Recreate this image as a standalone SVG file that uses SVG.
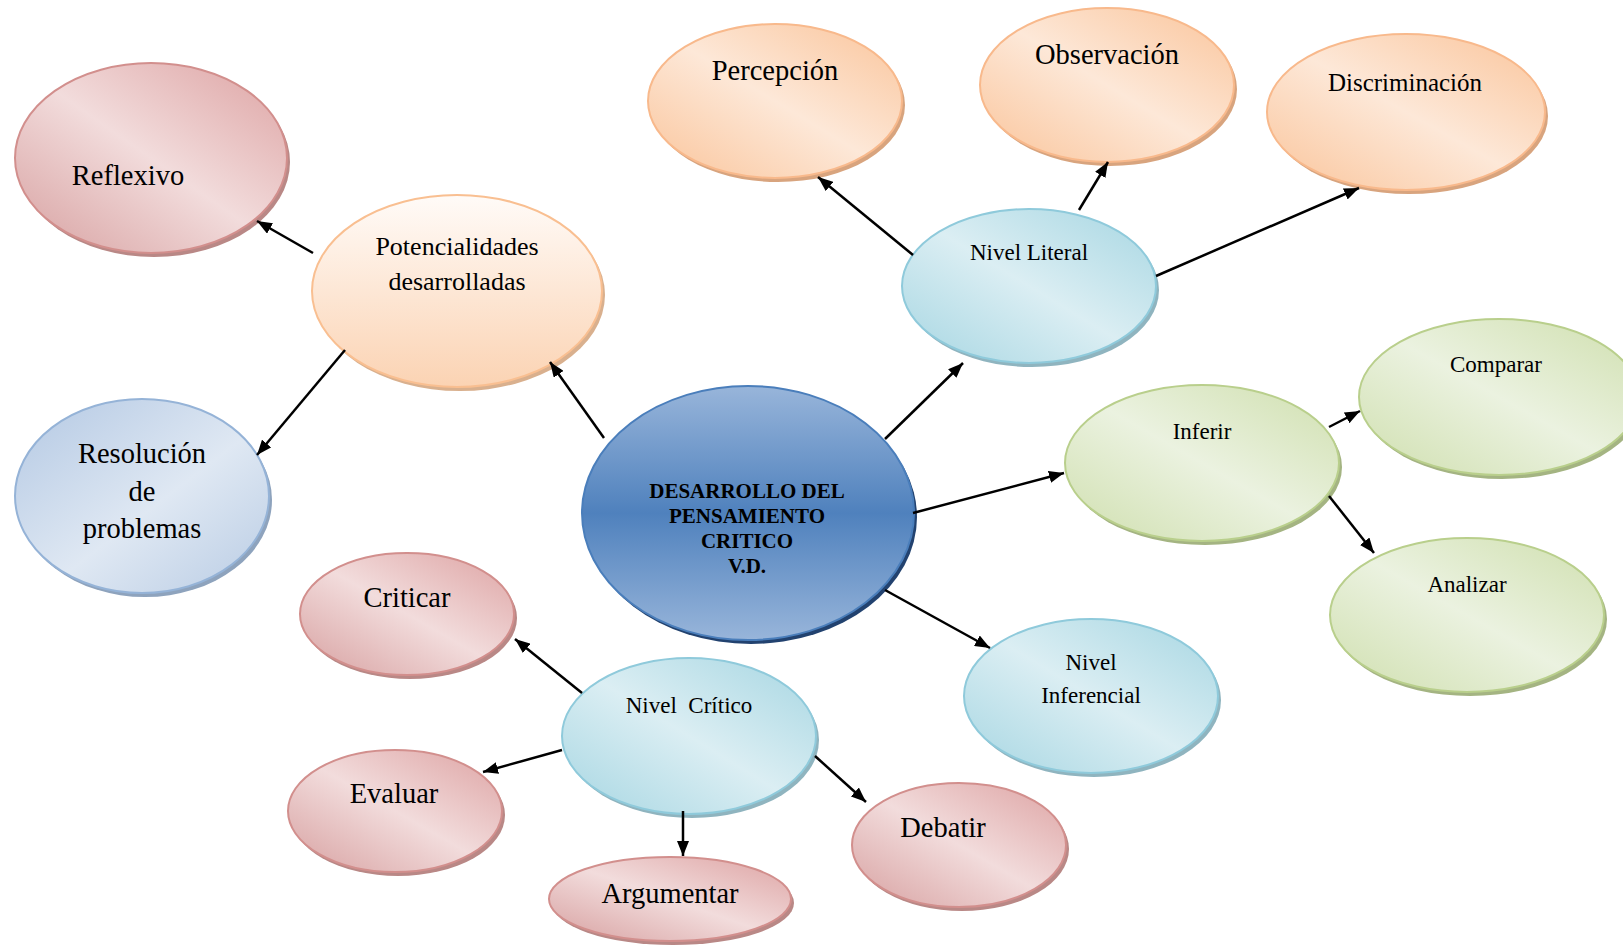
<svg xmlns="http://www.w3.org/2000/svg" width="1623" height="946" viewBox="0 0 1623 946">
<style>
text{font-family:"Liberation Serif","Times New Roman",serif;fill:#000;text-anchor:middle}
.t28{font-size:28.5px}
.t26{font-size:26px}
.t25{font-size:25px}
.t23{font-size:23px}
.tb{font-size:21px;font-weight:bold}
.pink{fill:url(#gPink);stroke:#d28f8d;stroke-width:2}
.orange{fill:url(#gOrange);stroke:#f8b98c;stroke-width:2}
.lblue{fill:url(#gLBlue);stroke:#8fcadb;stroke-width:2}
.green{fill:url(#gGreen);stroke:#b9cf8c;stroke-width:2}
.sb{fill:url(#gSBlue);stroke:#95b3d7;stroke-width:2}
.pot{fill:url(#gPot);stroke:#f9bf91;stroke-width:2}
.cen{fill:url(#gCen);stroke:#4a7ebb;stroke-width:2}
.sh-pink{fill:#b98886}
.sh-orange{fill:#d8a47e}
.sh-lblue{fill:#8fb4bf}
.sh-green{fill:#a4b482}
.sh-sb{fill:#8ea3bd}
.sh-pot{fill:#d9b08e}
.sh-cen{fill:#22426f}
.conn line{stroke:#000;stroke-width:2.5;marker-end:url(#arr)}
</style>
<defs>
<marker id="arr" markerUnits="userSpaceOnUse" markerWidth="15" markerHeight="12" refX="15" refY="6" orient="auto">
<path d="M0,0 L15,6 L0,12 z" fill="#000"/>
</marker>
<linearGradient id="gPink" x1="0" y1="1" x2="1" y2="0">
<stop offset="0" stop-color="#d7a0a0"/>
<stop offset="0.5" stop-color="#f2dcdc"/>
<stop offset="1" stop-color="#dda2a2"/>
</linearGradient>
<linearGradient id="gOrange" x1="0" y1="1" x2="1" y2="0">
<stop offset="0" stop-color="#fac49a"/>
<stop offset="0.5" stop-color="#fde8d8"/>
<stop offset="1" stop-color="#fac49a"/>
</linearGradient>
<linearGradient id="gLBlue" x1="0" y1="1" x2="1" y2="0">
<stop offset="0" stop-color="#a6d6e2"/>
<stop offset="0.5" stop-color="#dbeef3"/>
<stop offset="1" stop-color="#a6d6e2"/>
</linearGradient>
<linearGradient id="gGreen" x1="0" y1="1" x2="1" y2="0">
<stop offset="0" stop-color="#cfdfae"/>
<stop offset="0.5" stop-color="#ebf2e0"/>
<stop offset="1" stop-color="#cfdfae"/>
</linearGradient>
<linearGradient id="gSBlue" x1="0" y1="0" x2="1" y2="1">
<stop offset="0" stop-color="#b3c8e3"/>
<stop offset="0.55" stop-color="#dfe8f3"/>
<stop offset="1" stop-color="#b9cce4"/>
</linearGradient>
<linearGradient id="gPot" x1="0" y1="0" x2="0" y2="1">
<stop offset="0" stop-color="#fffbf8"/>
<stop offset="1" stop-color="#fbd3b3"/>
</linearGradient>
<linearGradient id="gCen" x1="0" y1="0" x2="0" y2="1">
<stop offset="0" stop-color="#98b5da"/>
<stop offset="0.5" stop-color="#4f81bd"/>
<stop offset="1" stop-color="#98b5da"/>
</linearGradient>
</defs>
<rect width="1623" height="946" fill="#fff"/>

<g id="reflexivo">
<ellipse class="sh-pink" cx="154" cy="162" rx="136" ry="95"/>
<ellipse class="pink" cx="151" cy="158" rx="136" ry="95"/>
<text class="t28" x="128" y="185">Reflexivo</text>
</g>
<g id="potencialidades">
<ellipse class="sh-pot" cx="460" cy="295" rx="145" ry="96"/>
<ellipse class="pot" cx="457" cy="291" rx="145" ry="96"/>
<text class="t26" x="457" y="255">Potencialidades</text>
<text class="t26" x="457" y="290">desarrolladas</text>
</g>
<g id="resolucion">
<ellipse class="sh-sb" cx="145" cy="500" rx="127" ry="97"/>
<ellipse class="sb" cx="142" cy="496" rx="127" ry="97"/>
<text class="t28" x="142" y="463">Resolución</text>
<text class="t28" x="142" y="501">de</text>
<text class="t28" x="142" y="538">problemas</text>
</g>
<g id="central">
<ellipse class="sh-cen" cx="751" cy="517" rx="166" ry="127"/>
<ellipse class="cen" cx="748" cy="513" rx="166" ry="127"/>
<text class="tb" x="747" y="498">DESARROLLO DEL</text>
<text class="tb" x="747" y="523">PENSAMIENTO</text>
<text class="tb" x="747" y="548">CRITICO</text>
<text class="tb" x="747" y="573">V.D.</text>
</g>
<g id="nivel-literal">
<ellipse class="sh-lblue" cx="1032" cy="290" rx="127" ry="77"/>
<ellipse class="lblue" cx="1029" cy="286" rx="127" ry="77"/>
<text class="t23" x="1029" y="260">Nivel Literal</text>
</g>
<g id="percepcion">
<ellipse class="sh-orange" cx="778" cy="105" rx="127" ry="77"/>
<ellipse class="orange" cx="775" cy="101" rx="127" ry="77"/>
<text class="t28" x="775" y="80">Percepción</text>
</g>
<g id="observacion">
<ellipse class="sh-orange" cx="1110" cy="89" rx="127" ry="77"/>
<ellipse class="orange" cx="1107" cy="85" rx="127" ry="77"/>
<text class="t28" x="1107" y="64">Observación</text>
</g>
<g id="discriminacion">
<ellipse class="sh-orange" cx="1409" cy="116" rx="139" ry="78"/>
<ellipse class="orange" cx="1406" cy="112" rx="139" ry="78"/>
<text class="t25" x="1405" y="91">Discriminación</text>
</g>
<g id="inferir">
<ellipse class="sh-green" cx="1205" cy="467" rx="137" ry="78"/>
<ellipse class="green" cx="1202" cy="463" rx="137" ry="78"/>
<text class="t23" x="1202" y="439">Inferir</text>
</g>
<g id="comparar">
<ellipse class="sh-green" cx="1502" cy="401" rx="140" ry="78"/>
<ellipse class="green" cx="1499" cy="397" rx="140" ry="78"/>
<text class="t23" x="1496" y="372">Comparar</text>
</g>
<g id="analizar">
<ellipse class="sh-green" cx="1470" cy="619" rx="137" ry="77"/>
<ellipse class="green" cx="1467" cy="615" rx="137" ry="77"/>
<text class="t23" x="1467" y="592">Analizar</text>
</g>
<g id="nivel-inferencial">
<ellipse class="sh-lblue" cx="1094" cy="700" rx="127" ry="77"/>
<ellipse class="lblue" cx="1091" cy="696" rx="127" ry="77"/>
<text class="t23" x="1091" y="670">Nivel</text>
<text class="t23" x="1091" y="703">Inferencial</text>
</g>
<g id="criticar">
<ellipse class="sh-pink" cx="410" cy="618" rx="107" ry="61"/>
<ellipse class="pink" cx="407" cy="614" rx="107" ry="61"/>
<text class="t28" x="407" y="607">Criticar</text>
</g>
<g id="evaluar">
<ellipse class="sh-pink" cx="398" cy="815" rx="107" ry="61"/>
<ellipse class="pink" cx="395" cy="811" rx="107" ry="61"/>
<text class="t28" x="394" y="803">Evaluar</text>
</g>
<g id="argumentar">
<ellipse class="sh-pink" cx="673" cy="903" rx="121" ry="42"/>
<ellipse class="pink" cx="670" cy="899" rx="121" ry="42"/>
<text class="t28" x="670" y="903">Argumentar</text>
</g>
<g id="debatir">
<ellipse class="sh-pink" cx="962" cy="849" rx="107" ry="62"/>
<ellipse class="pink" cx="959" cy="845" rx="107" ry="62"/>
<text class="t28" x="943" y="837">Debatir</text>
</g>
<g id="nivel-critico">
<ellipse class="sh-lblue" cx="692" cy="740" rx="127" ry="78"/>
<ellipse class="lblue" cx="689" cy="736" rx="127" ry="78"/>
<text class="t23" x="689" y="713" xml:space="preserve">Nivel  Crítico</text>
</g>

<g id="connectors" class="conn">
<line x1="604" y1="438" x2="550" y2="362"/>
<line x1="313" y1="253" x2="257" y2="221"/>
<line x1="345" y1="350" x2="257" y2="455"/>
<line x1="885" y1="439" x2="963" y2="363"/>
<line x1="913" y1="255" x2="818" y2="177"/>
<line x1="1079" y1="210" x2="1108" y2="162"/>
<line x1="1156" y1="276" x2="1359" y2="188"/>
<line x1="913" y1="513" x2="1064" y2="473"/>
<line x1="1329" y1="427" x2="1360" y2="411"/>
<line x1="1329" y1="496" x2="1374" y2="553"/>
<line x1="885" y1="590" x2="990" y2="648"/>
<line x1="582" y1="693" x2="515" y2="639"/>
<line x1="562" y1="750" x2="483" y2="772"/>
<line x1="683" y1="811" x2="683" y2="856"/>
<line x1="815" y1="756" x2="866" y2="802"/>
</g>
</svg>
